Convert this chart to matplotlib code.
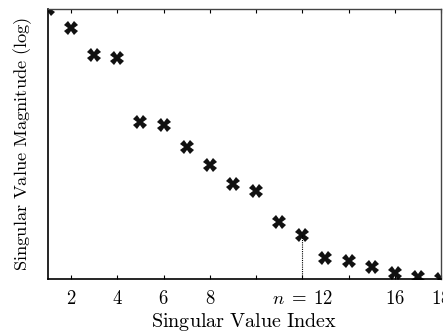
import matplotlib
matplotlib.use("Agg")
import matplotlib.pyplot as plt
from matplotlib.ticker import NullLocator

plt.rcParams["mathtext.fontset"] = "cm"
plt.rcParams["font.family"] = "serif"
plt.rcParams["font.serif"] = ["DejaVu Serif"]

# singular value index and magnitude (log scale)
index = [1, 2, 3, 4, 5, 6, 7, 8, 9, 10, 11, 12, 13, 14, 15, 16, 17, 18]
magnitude = [10.0, 6.15, 3.08, 2.86, 0.555, 0.514, 0.293, 0.185, 0.114, 0.0962,
             0.043, 0.0308, 0.0171, 0.0158, 0.0136, 0.0117, 0.0105, 0.0100]
tick_positions = [2, 4, 6, 8, 10, 12, 14, 16, 18]
tick_labels = ["$2$", "$4$", "$6$", "$8$", "", r"$n\;=\;12$", "", "$16$", "$18$"]
cutoff = 12

fig = plt.figure(figsize=(4.43, 3.32), dpi=100)
ax = fig.add_axes([48 / 443, 1 - 279 / 332, (441 - 48) / 443, (279 - 9) / 332])

ax.plot(index, magnitude, linestyle="none", marker="X", markersize=9.5,
        color="#111111", markeredgewidth=0, clip_on=True)

# dotted drop line at the truncation index
ax.vlines(cutoff, magnitude[index.index(cutoff)], magnitude[-1] * 0.5,
          colors="black", linestyles=(0, (1, 1)), linewidth=0.8)

ax.set_yscale("log")
ax.set_xlim(1, 18)
ax.set_ylim(magnitude[-1], magnitude[0])
ax.yaxis.set_major_locator(NullLocator())
ax.yaxis.set_minor_locator(NullLocator())

ax.set_xticks(tick_positions)
ax.set_xticklabels(tick_labels, fontsize=13.5)
ax.tick_params(axis="x", direction="in", top=True, bottom=True, length=3,
               width=0.8, pad=8)

for side in ("left", "bottom"):
    ax.spines[side].set_linewidth(1.2)
    ax.spines[side].set_color("black")
for side in ("top", "right"):
    ax.spines[side].set_linewidth(1.0)
    ax.spines[side].set_color("#444444")

ax.set_xlabel(r"$\mathrm{Singular\ Value\ Index}$", fontsize=14.5, labelpad=2)
ax.set_ylabel(r"$\mathrm{Singular\ Value\ Magnitude\ (log)}$", fontsize=13.3,
              labelpad=10)

fig.savefig("out.png", dpi=100)
